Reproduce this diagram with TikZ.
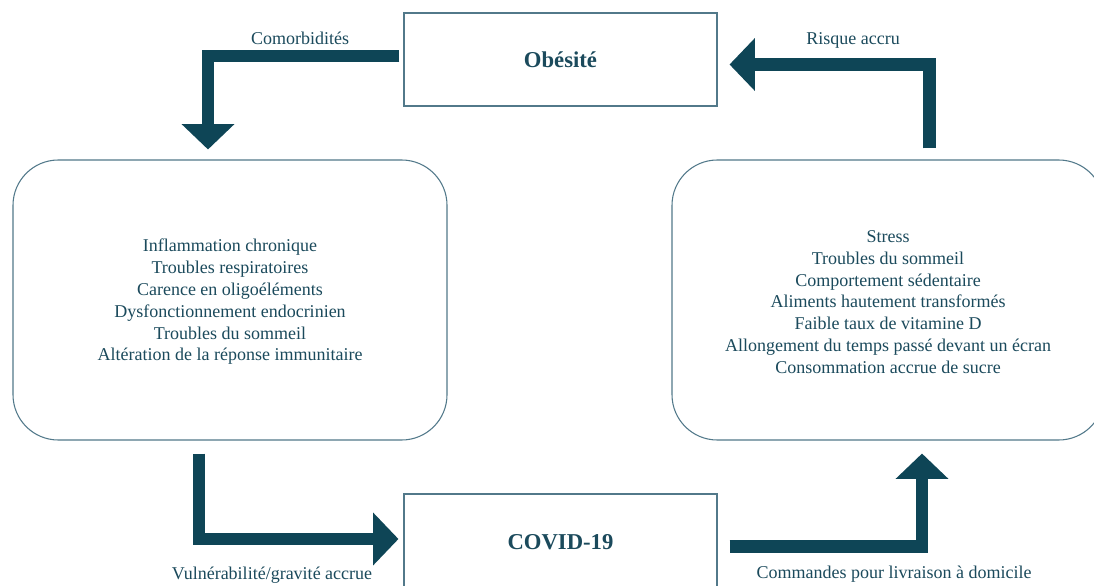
\documentclass[tikz,border=0pt]{standalone}
\usepackage{fontspec}
\setmainfont{Liberation Serif}
\usetikzlibrary{arrows.meta,calc}
\definecolor{txt}{HTML}{1B4A5C}
\definecolor{arr}{HTML}{0E4556}
\definecolor{brd}{HTML}{52798A}
\tikzset{
  box/.style={draw=brd, line width=0.8pt, fill=white, inner sep=0pt, text=txt,
    font=\fontsize{17}{20}\selectfont\bfseries},
  roundbox/.style={draw=brd, line width=0.8pt, rounded corners=34pt, inner sep=0pt,
    text=txt, align=center, font=\fontsize{13.5}{16.35}\selectfont},
  lab/.style={text=txt, font=\fontsize{13.5}{16}\selectfont, inner sep=0pt},
  listtext/.style={text=txt, align=center, font=\fontsize{13.5}{16.35}\selectfont, inner sep=0pt},
  bigarrow/.style={draw=arr, line width=9pt,
    -{Triangle[width=38.5pt,length=19pt]}},
}
\begin{document}
\begin{tikzpicture}[x=0.75pt,y=-0.75pt]
\useasboundingbox (0,0) rectangle (1094,585);
\fill[white] (0,0) rectangle (1094,585);

\node[box, minimum width=234.75pt, minimum height=69.75pt] (obes) at (560.5,59.5) {Obésité};
\node[box, minimum width=234.75pt, minimum height=72pt] (covid) at (560.5,542) {COVID-19};

\node[roundbox, minimum width=325.5pt, minimum height=210pt] (left) at (230,300) {};
\node[roundbox, minimum width=324pt, minimum height=210pt] (right) at (888,300) {};

\node[listtext] (ltext) at ($(left.center)+(0,2)$)
 {Inflammation chronique\\Troubles respiratoires\\Carence en oligoéléments\\Dysfonctionnement endocrinien\\Troubles du sommeil\\Altération de la réponse immunitaire};
\node[listtext] (rtext) at ($(right.center)+(0,2)$)
 {Stress\\Troubles du sommeil\\Comportement sédentaire\\Aliments hautement transformés\\Faible taux de vitamine D\\Allongement du temps passé devant un écran\\Consommation accrue de sucre};

% arrow end coordinates
\coordinate (a1s) at ($(obes.west)+(-4,-3.5)$);
\coordinate (a1e) at ($(left.north)+(-22,-10)$);
\coordinate (a2s) at ($(right.north)+(41.5,-11)$);
\coordinate (a2e) at ($(obes.east)+(12,5)$);
\coordinate (a3s) at ($(left.south)+(-31.5,13)$);
\coordinate (a3e) at ($(covid.west)+(-5,-3)$);
\coordinate (a4s) at ($(covid.east)+(12,4.5)$);
\coordinate (a4e) at ($(right.south)+(34,13)$);

\draw[bigarrow] (a1s) -| (a1e);
\draw[bigarrow, line width=9.75pt] (a2s) |- (a2e);
\draw[bigarrow] (a3s) |- (a3e);
\draw[bigarrow, line width=9.4pt] (a4s) -| (a4e);

\node[lab] (l1) at (300,38) {Comorbidités};
\node[lab] (l2) at (853,40) {Risque accru};
\node[lab] (l3) at (272,575) {Vulnérabilité/gravité accrue};
\node[lab] (l4) at (894,574) {Commandes pour livraison à domicile};
\end{tikzpicture}
\end{document}
